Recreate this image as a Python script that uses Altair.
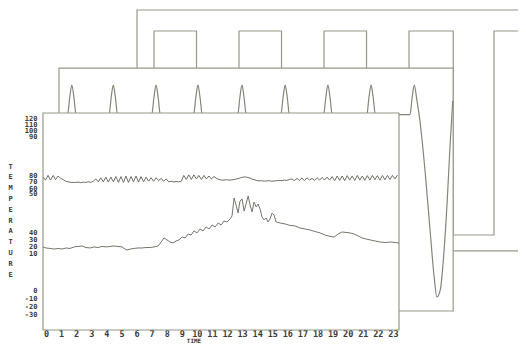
import altair as alt
import pandas as pd

# ---------------- front panel: temperature over the day ----------------
hour_ticks = list(range(24))
ytick_labels = ["120", "110", "100", "90", "80", "70", "60", "50",
                "40", "30", "20", "10", "0", "-10", "-20", "-30"]
ytick_pos = [129.7, 124.1, 119.0, 113.8, 80.4, 74.9, 69.7, 64.6,
             31.6, 26.0, 19.6, 14.0, -18.5, -25.4, -31.8, -38.3]

# upper trace, one reading every 10 minutes starting at -0.2 h
upper_start = -0.2
upper_step_min = 10
upper_temp = [
    79, 76.5, 80.5, 76.5, 80.5, 77, 80,
    78, 77, 75.5, 75, 74.5, 74.5,
    74.5, 74.8, 74.3, 74.8, 74.5, 75, 74.5, 75.5,
    77.5, 75, 78.5, 75, 79, 74.8, 79, 75, 79.5, 74.5, 79.5, 74.5, 80, 74.5,
    79.5, 75, 80, 74.8, 79.5, 75, 79, 75.5, 78.5, 75.5, 78.5, 76, 78, 75.5, 77.5,
    75, 75.5, 74.8, 75.3, 75, 75.5,
    80.5,
    77, 81, 77, 81, 77.5, 80.5, 77, 80.5, 77.5, 80, 77.5, 79.5,
    78, 77, 76.5, 76.5, 76.8, 76.5, 76.6, 77, 77.5, 78,
    78.8, 79.2, 79, 78.5, 77.5, 76.8,
    76.2, 75.8, 76, 75.6, 75.8, 76, 75.5, 75.8, 76, 76.2, 76, 76.5, 76.2, 77,
    77.5, 76, 78, 76.2, 78.3, 76, 78.5, 76.5, 78, 76.2, 78.5, 76.5, 78.8, 76.5, 79, 76.5,
    79.5, 76, 80, 76.2, 80, 76, 80.3, 76.5, 80, 76.2, 80.5, 76.5, 80, 76.3, 80.3,
    76.5, 80.5, 76.8, 80.3, 76.5, 80.5, 76.8, 80.5, 77, 80.5, 77.5, 80.8,
]

low_hour = [-0.2, 0.0, 0.27, 0.53, 0.8, 1.06, 1.33, 1.59, 1.86, 2.12, 2.39, 2.65,
            2.92, 3.18, 3.45, 3.71, 3.98, 4.24, 4.51, 4.77, 5.04, 5.24, 5.37, 5.57,
            5.84, 6.1, 6.37, 6.63, 6.9, 7.16, 7.43, 7.63, 7.82, 8.02, 8.22, 8.42,
            8.62, 8.82, 9.02, 9.22, 9.42, 9.62, 9.81, 10.01, 10.21, 10.41, 10.61,
            10.81, 11.01, 11.21, 11.41, 11.6, 11.8, 12.0, 12.2, 12.33, 12.47, 12.6,
            12.73, 12.86, 13.0, 13.13, 13.26, 13.4, 13.53, 13.66, 13.79, 13.93,
            14.06, 14.19, 14.32, 14.46, 14.59, 14.72, 14.85, 14.99, 15.12, 15.25,
            15.52, 15.85, 16.18, 16.51, 16.84, 17.18, 17.51, 17.84, 18.17, 18.5,
            18.83, 19.1, 19.36, 19.63, 19.89, 20.16, 20.42, 20.69, 20.95, 21.22,
            21.49, 21.82, 22.15, 22.48, 22.81, 23.14, 23.4]
low_temp = [19.2, 18.3, 17.9, 17.4, 17.9, 17.4, 18.3, 17.9, 19.2, 19.6, 20.0, 18.7,
            18.3, 19.2, 18.7, 19.6, 19.2, 19.6, 20.0, 19.6, 19.2, 17.4, 16.6, 17.4,
            17.9, 18.3, 18.3, 18.7, 18.7, 19.2, 20.0, 23.4, 26.9, 25.2, 23.4, 22.6,
            24.3, 25.2, 27.7, 26.9, 30.3, 29.4, 32.9, 31.2, 34.6, 32.9, 36.3,
            34.6, 38.0, 36.3, 39.7, 38.0, 41.4, 40.6, 43.2, 45.7, 61.1, 55.1,
            48.3, 58.6, 60.3, 50.0, 56.0, 62.9, 55.1, 49.2, 57.7, 53.4,
            56.0, 51.7, 44.9, 42.3, 44.0, 40.6, 43.2, 48.3, 46.6, 40.6,
            39.7, 38.9, 37.6, 37.2, 35.4, 34.6, 33.7, 32.4, 31.2, 29.4,
            28.2, 27.7, 30.3, 32.0, 31.6, 31.2, 30.3, 28.6, 26.9, 26.0,
            25.2, 24.3, 23.4, 23.0, 23.4, 23.0, 22.6]

# ---------------- middle panel: periodic peaks ----------------
mid_t = [0.0,
         0.2, 0.25, 0.3, 0.35, 0.4,
         1.17, 1.22, 1.27, 1.32, 1.37,
         2.17, 2.22, 2.27, 2.32, 2.37,
         3.15, 3.2, 3.25, 3.3, 3.35,
         4.18, 4.23, 4.28, 4.33, 4.38,
         5.19, 5.24, 5.29, 5.34, 5.39,
         6.19, 6.24, 6.29, 6.34, 6.39,
         7.2, 7.25, 7.3, 7.35, 7.4,
         8.21, 8.26, 8.31, 8.37, 8.44, 8.56, 8.68, 8.77, 8.84, 8.92, 9.0, 9.08, 9.15, 9.21]
mid_v = [0.72,
         0.72, 0.88, 1.0, 0.88, 0.72,
         0.72, 0.88, 1.0, 0.88, 0.72,
         0.72, 0.88, 1.0, 0.88, 0.72,
         0.72, 0.88, 1.0, 0.88, 0.72,
         0.72, 0.88, 1.0, 0.88, 0.72,
         0.72, 0.88, 1.0, 0.88, 0.72,
         0.72, 0.88, 1.0, 0.88, 0.72,
         0.72, 0.88, 1.0, 0.88, 0.72,
         0.72, 0.88, 1.0, 0.86, 0.67, 0.2, -0.37, -0.79, -1.0, -0.93, -0.6, -0.1, 0.45, 0.85]

# ---------------- back panel: square wave ----------------
sq_t = [0, 0.2, 0.7, 1.2, 1.7, 2.2, 2.7, 3.2, 3.72, 4.2, 4.75]
sq_v = [0, 1, 0, 1, 0, 1, 0, 1, 0, 1, 1]

# panel frames in each panel's own units
back_frame = {"x0": [0], "x1": [4.75], "y0": [-0.078], "y1": [1.103]}
mid_frame = {"x0": [0], "x1": [9.22], "y0": [-1.132], "y1": [1.16]}
front_frame = {"x0": [-0.2], "x1": [23.4], "y0": [-52], "y1": [134]}

FRAME = "#98988a"
INK = "#3a3a36"
FONT = "DejaVu Sans Mono"

# ---------------- scales ----------------
bx = alt.Scale(domain=[-1.106, 3.082], nice=False, zero=False)
by = alt.Scale(domain=[-0.4657, 0.598], nice=False, zero=False)
mx = alt.Scale(domain=[-0.3743, 7.953], nice=False, zero=False)
my = alt.Scale(domain=[-1.3113, 0.7358], nice=False, zero=False)
fx = alt.Scale(domain=[-0.2, 23.4], nice=False, zero=False)
fy = alt.Scale(domain=[-52, 134], nice=False, zero=False)

label_expr = ("[" + ",".join("'" + s + "'" for s in ytick_labels) + "][indexof(["
              + ",".join(str(p) for p in ytick_pos) + "], datum.value)]")

x_axis = alt.Axis(orient="bottom", values=hour_ticks, format="d", grid=False,
                  domain=False, ticks=False, tickSize=0, labelFlush=False,
                  labelOverlap=False, labelFont=FONT, labelFontSize=8.5,
                  labelFontWeight="bold", labelColor=INK, labelPadding=-1,
                  title="TIME", titleFont=FONT, titleFontSize=6,
                  titleFontWeight="bold", titleColor=INK, titleX=150.5,
                  titleY=10, titleAlign="center", titleBaseline="middle")
y_axis = alt.Axis(orient="left", values=ytick_pos, labelExpr=label_expr,
                  grid=False, domain=False, ticks=False, tickSize=0,
                  labelFlush=False, labelOverlap=False, labelFont=FONT,
                  labelFontSize=7, labelFontWeight="bold", labelColor=INK,
                  labelPadding=6, labelBaseline="middle",
                  title=list("TEMPERATURE"), titleAngle=0, titleX=-33,
                  titleY=49, titleAlign="center", titleBaseline="top",
                  titleLineHeight=10.8, titleFont=FONT, titleFontSize=7,
                  titleFontWeight="bold", titleColor=INK)

# back panel
back_rect = alt.Chart(pd.DataFrame(back_frame)).mark_rect(
    fill="white", stroke=FRAME, strokeWidth=1.2).encode(
    x=alt.X("x0:Q", scale=bx, axis=None), x2="x1:Q",
    y=alt.Y("y0:Q", scale=by, axis=None), y2="y1:Q")
back_line = alt.Chart(pd.DataFrame({"x0": sq_t, "y0": sq_v})).mark_line(
    interpolate="step-after", color=FRAME, strokeWidth=1.2).encode(
    x=alt.X("x0:Q", scale=bx, axis=None),
    y=alt.Y("y0:Q", scale=by, axis=None))
back = alt.layer(back_rect, back_line)

# middle panel
mid_rect = alt.Chart(pd.DataFrame(mid_frame)).mark_rect(
    fill="white", stroke=FRAME, strokeWidth=1.2).encode(
    x=alt.X("x0:Q", scale=mx, axis=None), x2="x1:Q",
    y=alt.Y("y0:Q", scale=my, axis=None), y2="y1:Q")
mid_line = alt.Chart(pd.DataFrame({"x0": mid_t, "y0": mid_v})).mark_line(
    interpolate="monotone", color="#85857a", strokeWidth=1.2).encode(
    x=alt.X("x0:Q", scale=mx, axis=None),
    y=alt.Y("y0:Q", scale=my, axis=None))
mid = alt.layer(mid_rect, mid_line)

# front panel
upper_hour = [round(upper_start + i * upper_step_min / 60, 4) for i in range(len(upper_temp))]
front_rect = alt.Chart(pd.DataFrame(front_frame)).mark_rect(
    fill="white", stroke=FRAME, strokeWidth=1.2).encode(
    x=alt.X("x0:Q", scale=fx, axis=x_axis), x2="x1:Q",
    y=alt.Y("y0:Q", scale=fy, axis=y_axis), y2="y1:Q")
up_line = alt.Chart(pd.DataFrame({"x0": upper_hour, "y0": upper_temp})).mark_line(
    color="#6e6e66", strokeWidth=1.0).encode(
    x=alt.X("x0:Q", scale=fx, axis=x_axis),
    y=alt.Y("y0:Q", scale=fy, axis=y_axis))
low_line = alt.Chart(pd.DataFrame({"x0": low_hour, "y0": low_temp})).mark_line(
    color="#76766c", strokeWidth=1.0).encode(
    x=alt.X("x0:Q", scale=fx, axis=x_axis),
    y=alt.Y("y0:Q", scale=fy, axis=y_axis))
front = alt.layer(front_rect, up_line, low_line)

chart = alt.layer(back, mid, front).resolve_scale(
    x="independent", y="independent").properties(
    width=356, height=217,
    padding={"left": 35, "top": 105, "right": 119, "bottom": 13},
    autosize=alt.AutoSizeParams(type="none"),
    background="white",
).configure_view(stroke=None)

chart.save("out.html", embed_options={"renderer": "svg", "actions": False})
